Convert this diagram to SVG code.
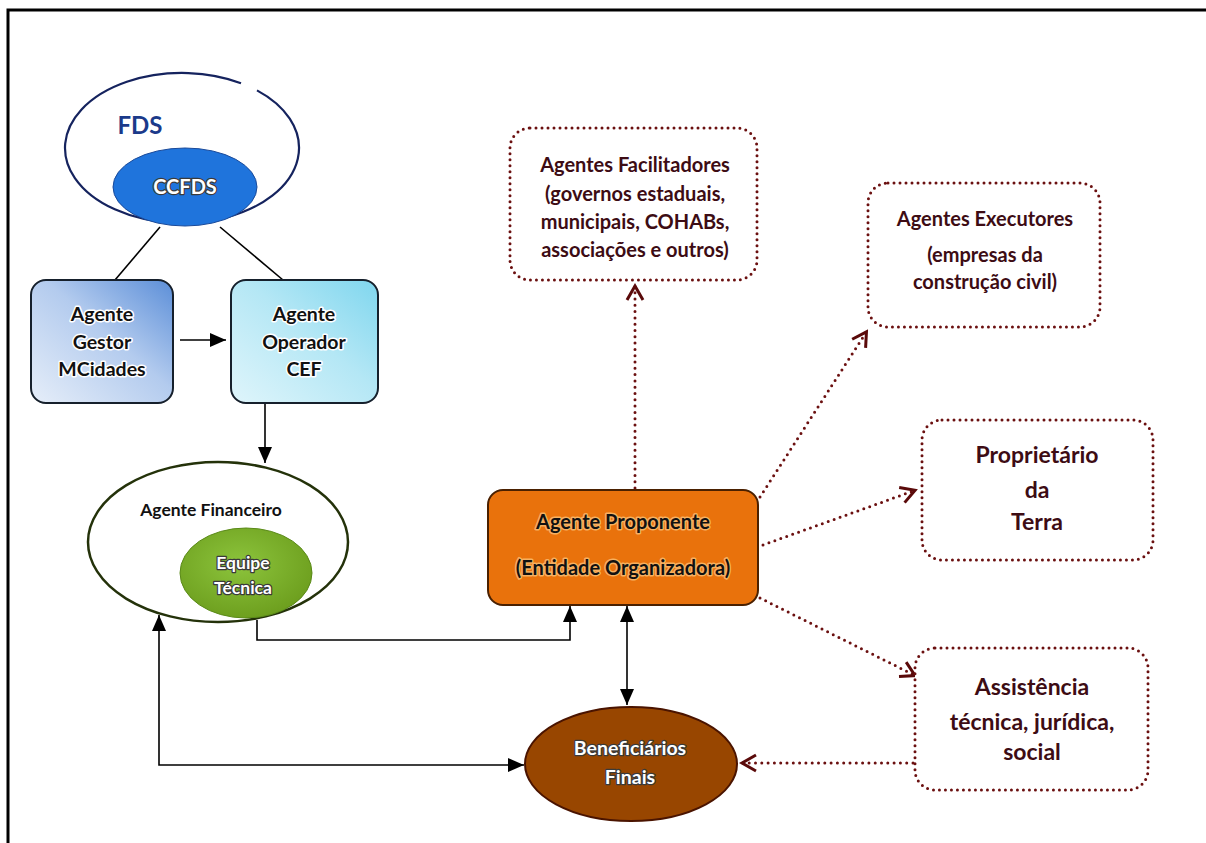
<svg xmlns="http://www.w3.org/2000/svg" width="1206" height="843" viewBox="0 0 1206 843">
<defs>
<style>
text{font-family:Lato,"Open Sans","DejaVu Sans",sans-serif;font-weight:bold;text-anchor:middle}
.blk{fill:#111;stroke:#fff;stroke-width:3;stroke-linejoin:round;paint-order:stroke}
.wht{fill:#fff;stroke:#3a3a3a;stroke-width:2.5;stroke-linejoin:round;paint-order:stroke}
.mar{fill:#3d0c14;stroke:#fff;stroke-width:2;paint-order:stroke}
.dotbox{fill:#fff;stroke:#6b1010;stroke-width:3;stroke-dasharray:0 6;stroke-linecap:round}
.dotln{fill:none;stroke:#6b1010;stroke-width:3;stroke-dasharray:0 6.3;stroke-linecap:round}
.ln{fill:none;stroke:#000;stroke-width:1.6}
</style>
<linearGradient id="gGestor" x1="0" y1="1" x2="1" y2="0">
<stop offset="0" stop-color="#e6eef9"/><stop offset="0.55" stop-color="#b3cbee"/><stop offset="1" stop-color="#5b8ed8"/>
</linearGradient>
<linearGradient id="gOper" x1="0" y1="1" x2="1" y2="0">
<stop offset="0" stop-color="#dff5fb"/><stop offset="0.55" stop-color="#b4e7f5"/><stop offset="1" stop-color="#7fd6ee"/>
</linearGradient>
<radialGradient id="gEq" cx="0.45" cy="0.4" r="0.65">
<stop offset="0" stop-color="#8cc43c"/><stop offset="1" stop-color="#6b9c1c"/>
</radialGradient>
<marker id="ah" markerUnits="userSpaceOnUse" viewBox="0 0 16 16" markerWidth="16" markerHeight="16" refX="16" refY="8" orient="auto-start-reverse">
<path d="M0,1 L16,8 L0,15 z" fill="#000"/>
</marker>
<marker id="ch" markerUnits="userSpaceOnUse" viewBox="0 0 20 20" markerWidth="20" markerHeight="20" refX="18" refY="10" orient="auto">
<path d="M3,2 L17,10 L3,18" fill="none" stroke="#5a0a0a" stroke-width="3"/>
</marker>
</defs>
<rect width="1206" height="843" fill="#fff"/>
<path d="M8,843 L8,10 L1206,10" fill="none" stroke="#000" stroke-width="3"/>

<g id="connectors">
<path class="ln" d="M160,227 L115,280"/>
<path class="ln" d="M220,227 L283,280"/>
<path class="ln" d="M180,340 L226,340" marker-end="url(#ah)"/>
<path class="ln" d="M265,404 L265,463" marker-end="url(#ah)"/>
<path class="ln" d="M257,620 L257,640 L570,640 L570,606" marker-end="url(#ah)"/>
<path class="ln" d="M627,606 L627,705" marker-start="url(#ah)" marker-end="url(#ah)"/>
<path class="ln" d="M159,615 L159,765 L524,765" marker-start="url(#ah)" marker-end="url(#ah)"/>
<path class="dotln" d="M635,488 L635,285" marker-end="url(#ch)"/>
<path class="dotln" d="M760,497 L867,331" marker-end="url(#ch)"/>
<path class="dotln" d="M763,545 L916,490" marker-end="url(#ch)"/>
<path class="dotln" d="M760,598 L916,676" marker-end="url(#ch)"/>
<path class="dotln" d="M913,763 L741,763" marker-end="url(#ch)"/>
</g>

<g id="fds">
<path d="M241,83.2 A117,75 0 1 0 257,90.4" fill="#fff" stroke="#15235e" stroke-width="2.2"/>
<text x="140" y="134" font-size="24" fill="#1b3a8a">FDS</text>
</g>
<g id="ccfds">
<ellipse cx="185" cy="187" rx="72" ry="39" fill="#1f74dc" stroke="#1a4a9a" stroke-width="1"/>
<text class="wht" x="185" y="194" font-size="20">CCFDS</text>
</g>
<g id="gestor">
<rect x="31" y="280" width="142" height="123" rx="15" fill="url(#gGestor)" stroke="#16202c" stroke-width="2"/>
<text class="blk" x="102" y="321" font-size="19.5">Agente</text>
<text class="blk" x="102" y="349" font-size="19.5">Gestor</text>
<text class="blk" x="102" y="376" font-size="19.5">MCidades</text>
</g>
<g id="operador">
<rect x="231" y="280" width="147" height="123" rx="15" fill="url(#gOper)" stroke="#16202c" stroke-width="2"/>
<text class="blk" x="304" y="321" font-size="19.5">Agente</text>
<text class="blk" x="304" y="349" font-size="19.5">Operador</text>
<text class="blk" x="304" y="376" font-size="19.5">CEF</text>
</g>
<g id="financeiro">
<ellipse cx="218" cy="542" rx="130" ry="80" fill="#fff" stroke="#24320a" stroke-width="2.5"/>
<text class="blk" x="211" y="516" font-size="17.5">Agente Financeiro</text>
</g>
<g id="equipe">
<ellipse cx="246" cy="573" rx="66" ry="45" fill="url(#gEq)" stroke="#5a8a18" stroke-width="1"/>
<text class="wht" x="243" y="569" font-size="17.5">Equipe</text>
<text class="wht" x="243" y="594" font-size="17.5">Técnica</text>
</g>
<g id="proponente">
<rect x="488" y="490" width="270" height="115" rx="15" fill="#e9720c" stroke="#4a2000" stroke-width="2"/>
<text class="blk" x="623" y="529" font-size="20" style="stroke:#f7b060">Agente Proponente</text>
<text class="blk" x="623" y="575" font-size="20" style="stroke:#f7b060">(Entidade Organizadora)</text>
</g>
<g id="beneficiarios">
<ellipse cx="631" cy="764" rx="106" ry="57" fill="#984600" stroke="#4a1400" stroke-width="2"/>
<text class="wht" x="630" y="755" font-size="19.5">Beneficiários</text>
<text class="wht" x="630" y="784" font-size="19.5">Finais</text>
</g>
<g id="facilitadores">
<rect class="dotbox" x="510" y="128" width="247" height="152" rx="20"/>
<text class="mar" x="635" y="172" font-size="20">Agentes Facilitadores</text>
<text class="mar" x="635" y="201" font-size="20">(governos estaduais,</text>
<text class="mar" x="635" y="229" font-size="20">municipais, COHABs,</text>
<text class="mar" x="635" y="257" font-size="20">associações e outros)</text>
</g>
<g id="executores">
<rect class="dotbox" x="868" y="183" width="232" height="144" rx="20"/>
<text class="mar" x="985" y="226" font-size="20">Agentes Executores</text>
<text class="mar" x="985" y="262" font-size="20">(empresas da</text>
<text class="mar" x="985" y="289" font-size="20">construção civil)</text>
</g>
<g id="proprietario">
<rect class="dotbox" x="922" y="420" width="231" height="140" rx="20"/>
<text class="mar" x="1037" y="463" font-size="23">Proprietário</text>
<text class="mar" x="1037" y="498" font-size="23">da</text>
<text class="mar" x="1037" y="530" font-size="23">Terra</text>
</g>
<g id="assistencia">
<rect class="dotbox" x="915" y="648" width="233" height="142" rx="20"/>
<text class="mar" x="1032" y="695" font-size="23">Assistência</text>
<text class="mar" x="1032" y="730" font-size="23">técnica, jurídica,</text>
<text class="mar" x="1032" y="760" font-size="23">social</text>
</g>
</svg>
